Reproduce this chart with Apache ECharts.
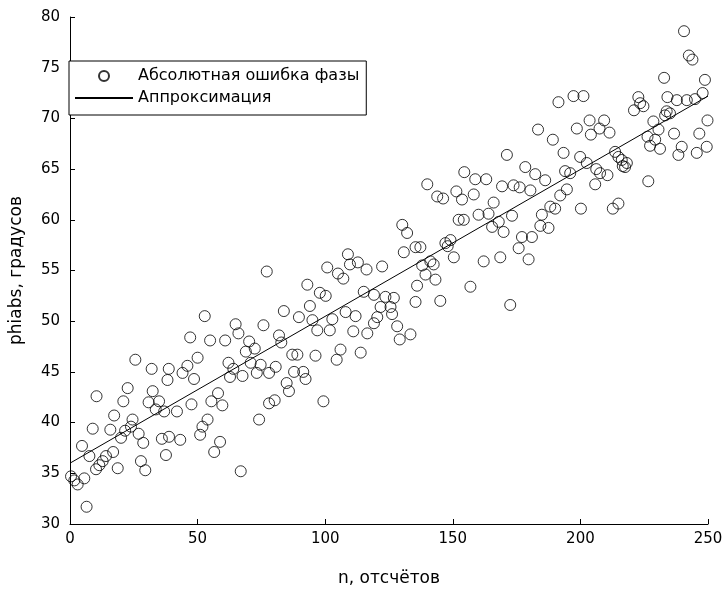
<!DOCTYPE html>
<html>
<head>
<meta charset="utf-8">
<script src="https://cdn.jsdelivr.net/npm/echarts@6/dist/echarts.min.js"></script>
<style>
  html, body { margin: 0; padding: 0; background: #fff; }
  #chart { width: 726px; height: 592px; }
</style>
</head>
<body>
<div id="chart"></div>
<script>
// Measured phase error samples: [n, degrees]
const phaseErrorPoints = [
  [0.4,34.7],[1.7,34.3],[3.0,33.9],[4.7,37.7],[5.6,34.5],[6.5,31.7],[7.6,36.7],[8.9,39.4],
  [10.2,35.4],[10.4,42.6],[11.5,35.8],[12.8,36.2],[14.1,36.7],[15.8,39.3],[16.9,37.1],[17.3,40.7],
  [18.7,35.5],[20.0,38.5],[20.9,42.1],[21.6,39.2],[22.6,43.4],[23.9,39.6],[24.5,40.3],[25.6,46.2],
  [26.9,38.9],[27.8,36.2],[28.7,38.0],[29.5,35.3],[30.8,42.0],[32.0,45.3],[32.4,43.1],[33.6,41.3],
  [34.9,42.1],[36.0,38.4],[36.9,41.1],[37.6,36.8],[38.2,44.2],[38.7,45.3],[38.8,38.6],
  [41.9,41.1],[43.2,38.3],[44.1,44.9],[46.0,45.6],[47.1,48.4],[47.6,41.8],[48.6,44.3],[50.0,46.4],
  [51.0,38.8],[51.9,39.6],[52.8,50.5],[53.9,40.3],[54.9,48.1],[55.4,42.1],[56.5,37.1],[58.0,42.9],
  [58.8,38.1],[59.7,41.7],[60.8,48.1],[62.1,45.9],[62.7,44.5],[64.0,45.3],[64.9,49.7],[66.0,48.8],
  [66.9,35.2],[67.6,44.6],[68.9,47.0],[70.2,48.0],[70.8,45.9],[72.4,47.3],[73.2,44.9],[74.1,40.3],
  [74.7,45.7],[75.8,49.6],[77.1,54.9],[78.0,44.9],[78.0,41.9],
  [80.2,42.2],[80.6,45.5],[81.9,48.6],[82.8,47.9],[83.8,51.0],[84.9,43.9],[85.8,43.1],[87.1,46.7],
  [87.8,45.0],[89.1,46.7],[89.7,50.4],[91.4,45.0],[92.3,44.3],[93.0,53.6],[94.0,51.5],[95.0,50.1],
  [96.2,46.6],[96.9,49.1],[97.9,52.8],[99.3,42.1],[100.2,52.5],[100.8,55.3],[101.8,49.1],[102.8,50.2],
  [104.5,46.2],[105.0,54.7],[106.0,47.2],[107.1,54.2],[108.0,50.9],[108.9,56.6],[109.7,55.6],[111.0,49.0],
  [111.9,50.5],[112.8,55.8],[113.9,46.9],[115.1,52.9],[116.2,55.1],[116.5,48.8],
  [119.1,52.6],[119.1,49.8],[120.4,50.4],[121.7,51.4],[122.3,55.4],[123.6,52.4],[125.6,51.4],[126.2,50.7],
  [126.9,52.3],[128.2,49.5],[129.2,48.2],[130.2,59.5],[130.8,56.8],[132.1,58.7],[133.4,48.7],[135.4,57.3],
  [135.4,51.9],[136.0,53.5],[137.3,57.3],[138.0,55.5],[139.3,54.6],[140.0,63.5],[141.2,55.9],[142.5,55.6],
  [143.2,54.1],[143.9,62.3],[145.1,52.0],[146.2,62.1],[147.1,57.7],[148.0,57.4],[149.1,58.0],[150.4,56.3],
  [151.4,62.8],[152.3,60.0],[153.6,62.0],[154.3,60.0],[154.5,64.7],[156.9,53.4],
  [158.2,62.5],[158.8,64.0],[160.1,60.5],[162.1,55.9],[163.1,64.0],[164.0,60.6],[165.4,59.3],[166.0,61.7],
  [168.0,59.8],[168.6,56.3],[169.3,63.3],[169.9,58.8],[171.2,66.4],[172.5,51.6],[173.2,60.4],[173.8,63.4],
  [175.8,57.2],[176.2,63.2],[177.1,58.3],[178.4,65.2],[179.7,56.1],[180.4,62.9],[181.0,58.3],[182.3,64.5],
  [183.4,68.9],[184.3,59.4],[184.9,60.5],[186.2,63.9],[187.5,59.2],[188.2,61.3],[189.2,67.9],[190.1,61.1],
  [191.4,71.6],[192.1,62.4],[193.4,66.6],[194.0,64.8],[194.7,63.0],
  [196.0,64.6],[197.3,72.2],[198.6,69.0],[199.9,66.2],[200.2,61.1],[201.2,72.2],[202.5,65.6],[203.6,69.8],
  [204.1,68.4],[205.8,63.5],[206.2,65.0],[207.5,69.0],[207.7,64.6],[209.3,69.8],[210.6,64.4],[211.4,68.6],
  [212.7,61.1],[213.6,66.7],[214.9,66.2],[214.9,61.6],[216.2,65.9],[216.6,65.3],[217.5,65.2],[218.2,65.6],
  [221.0,70.8],[222.7,72.1],[223.4,71.5],[224.7,71.2],[226.3,68.2],[226.6,63.8],[227.3,67.3],[228.6,69.7],
  [229.3,67.9],[230.6,68.9],[231.2,67.0],[232.8,74.0],[233.2,70.3],[233.8,70.7],[234.1,72.1],[235.1,70.5],
  [236.7,68.5],[237.8,71.8],[238.4,66.4],[239.7,67.2],[240.6,78.6],[241.7,71.8],[242.5,76.2],[243.9,75.8],
  [244.9,71.9],[245.6,66.6],[246.6,68.5],[247.9,72.5],[248.8,73.8],[249.5,67.2],[249.8,69.8]
];

// Linear fit endpoints: [n, degrees]
const fitLine = [[0, 36.0], [250, 72.2]];

const xTicks = { min: 0, max: 250, interval: 50 };
const yTicks = { min: 30, max: 80, interval: 5 };

const seriesNames = ['Абсолютная ошибка фазы', 'Аппроксимация'];
const axisNames = { x: 'n, отсчётов', y: 'phiabs, градусов' };

const FONT = '"DejaVu Sans", "Liberation Sans", sans-serif';

const chart = echarts.init(document.getElementById('chart'), null, { renderer: 'canvas' });

const axisCommon = {
  type: 'value',
  axisLine: { show: true, onZero: false, lineStyle: { color: '#000', width: 1 } },
  axisTick: { show: true, inside: true, length: 5, lineStyle: { color: '#000', width: 1 } },
  splitLine: { show: false },
  nameLocation: 'middle',
  nameTextStyle: { color: '#000', fontSize: 17, fontFamily: FONT }
};

chart.setOption({
  animation: false,
  backgroundColor: '#fff',
  grid: { left: 69, right: 18, top: 17, bottom: 68, containLabel: false },
  legend: {
    orient: 'vertical',
    left: 69,
    top: 61,
    padding: [7, 7, 9, 5],
    itemGap: 6,
    itemWidth: 58,
    itemHeight: 10,
    backgroundColor: '#fff',
    borderColor: '#000',
    borderWidth: 1,
    borderRadius: 0,
    textStyle: { color: '#000', fontSize: 16, fontFamily: FONT, padding: [0, 0, 0, 0] },
    data: [
      { name: seriesNames[0] },
      // plain line icon, without the centre marker
      { name: seriesNames[1], itemStyle: { color: 'rgba(0,0,0,0)', borderColor: 'rgba(0,0,0,0)', borderWidth: 0 } }
    ]
  },
  xAxis: Object.assign({}, axisCommon, {
    min: xTicks.min, max: xTicks.max, interval: xTicks.interval,
    name: axisNames.x,
    nameGap: 46,
    axisLabel: { color: '#000', fontSize: 15, fontFamily: FONT, margin: 8 }
  }),
  yAxis: Object.assign({}, axisCommon, {
    min: yTicks.min, max: yTicks.max, interval: yTicks.interval,
    name: axisNames.y,
    nameGap: 45,
    axisLabel: { color: '#000', fontSize: 15, fontFamily: FONT, margin: 10 }
  }),
  series: [
    {
      name: seriesNames[0],
      type: 'scatter',
      data: phaseErrorPoints,
      symbol: 'circle',
      symbolSize: 11,
      itemStyle: { color: 'rgba(255,255,255,0)', borderColor: '#000', borderWidth: 1 },
      emphasis: { disabled: true },
      z: 2
    },
    {
      name: seriesNames[1],
      type: 'line',
      data: fitLine,
      symbol: 'none',
      lineStyle: { color: '#000', width: 1 },
      itemStyle: { color: '#000' },
      emphasis: { disabled: true },
      z: 3
    }
  ]
});
</script>
</body>
</html>
